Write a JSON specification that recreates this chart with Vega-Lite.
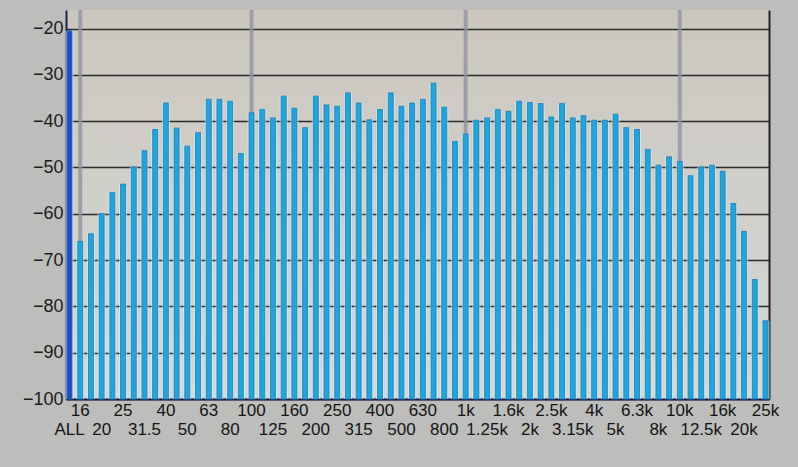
{
  "$schema": "https://vega.github.io/schema/vega-lite/v6.json",
  "description": "1/6-octave spectrum analyser display, level in dB per band.",
  "width": 703,
  "height": 389,
  "autosize": {"type": "none"},
  "padding": {"left": 66, "top": 10, "right": 29, "bottom": 68},
  "background": "#bdbdbb",
  "data": {
    "values": [
      {"band": "ALL", "level": -20.5},
      {"band": "16", "level": -66.0},
      {"band": "18", "level": -64.3},
      {"band": "20", "level": -60.0},
      {"band": "22.4", "level": -55.4},
      {"band": "25", "level": -53.6},
      {"band": "28", "level": -49.9},
      {"band": "31.5", "level": -46.4},
      {"band": "35.5", "level": -41.8},
      {"band": "40", "level": -36.1},
      {"band": "45", "level": -41.5},
      {"band": "50", "level": -45.4},
      {"band": "56", "level": -42.5},
      {"band": "63", "level": -35.3},
      {"band": "71", "level": -35.3},
      {"band": "80", "level": -35.7},
      {"band": "90", "level": -47.0},
      {"band": "100", "level": -38.2},
      {"band": "112", "level": -37.5},
      {"band": "125", "level": -39.3},
      {"band": "140", "level": -34.6},
      {"band": "160", "level": -37.2},
      {"band": "180", "level": -41.4},
      {"band": "200", "level": -34.6},
      {"band": "224", "level": -36.5},
      {"band": "250", "level": -36.8},
      {"band": "280", "level": -33.9},
      {"band": "315", "level": -36.1},
      {"band": "355", "level": -39.7},
      {"band": "400", "level": -37.5},
      {"band": "450", "level": -33.9},
      {"band": "500", "level": -36.8},
      {"band": "560", "level": -36.1},
      {"band": "630", "level": -35.3},
      {"band": "710", "level": -31.8},
      {"band": "800", "level": -37.0},
      {"band": "900", "level": -44.4},
      {"band": "1k", "level": -42.8},
      {"band": "1.12k", "level": -39.8},
      {"band": "1.25k", "level": -39.3},
      {"band": "1.4k", "level": -37.5},
      {"band": "1.6k", "level": -37.9},
      {"band": "1.8k", "level": -35.7},
      {"band": "2k", "level": -36.0},
      {"band": "2.24k", "level": -36.2},
      {"band": "2.5k", "level": -39.1},
      {"band": "2.8k", "level": -36.2},
      {"band": "3.15k", "level": -39.3},
      {"band": "3.55k", "level": -38.8},
      {"band": "4k", "level": -39.8},
      {"band": "4.5k", "level": -39.8},
      {"band": "5k", "level": -38.5},
      {"band": "5.6k", "level": -41.4},
      {"band": "6.3k", "level": -41.8},
      {"band": "7.1k", "level": -46.1},
      {"band": "8k", "level": -49.5},
      {"band": "9k", "level": -47.7},
      {"band": "10k", "level": -48.7},
      {"band": "11.2k", "level": -51.8},
      {"band": "12.5k", "level": -49.9},
      {"band": "14k", "level": -49.5},
      {"band": "16k", "level": -50.8},
      {"band": "18k", "level": -57.8},
      {"band": "20k", "level": -63.8},
      {"band": "22.4k", "level": -74.2},
      {"band": "25k", "level": -83.1}
    ]
  },
  "encoding": {
    "x": {
      "field": "band",
      "type": "nominal",
      "sort": null,
      "scale": {"paddingInner": 0.5, "paddingOuter": 0.08},
      "axis": {
        "title": null,
        "orient": "bottom",
        "labelAngle": 0,
        "ticks": false,
        "grid": false,
        "labelOverlap": false,
        "labelBound": false,
        "labelFlush": false,
        "labelExpr": "indexof(['ALL','16','20','25','31.5','40','50','63','80','100','125','160','200','250','315','400','500','630','800','1k','1.25k','1.6k','2k','2.5k','3.15k','4k','5k','6.3k','8k','10k','12.5k','16k','20k','25k'], datum.value) >= 0 ? datum.value : ''",
        "labelPadding": {
          "condition": {
            "test": "indexof(['ALL','20','31.5','50','80','125','200','315','500','800','1.25k','2k','3.15k','5k','8k','12.5k','20k'], datum.value) >= 0",
            "value": 22
          },
          "value": 3
        },
        "labelBaseline": "top",
        "labelFont": "Liberation Sans",
        "labelFontSize": 17,
        "labelColor": "#141414",
        "domainColor": "#1b2550",
        "domainWidth": 2
      }
    }
  },
  "layer": [
    {
      "mark": {"type": "rule", "color": "#9094a4", "strokeWidth": 4},
      "encoding": {
        "opacity": {
          "condition": {"test": "indexof(['16','100','1k','10k'], datum.band) >= 0", "value": 0.8},
          "value": 0
        }
      }
    },
    {
      "mark": {"type": "bar", "size": 8, "color": "#e6eff3", "opacity": 0.6},
      "encoding": {
        "y": {
          "field": "level",
          "type": "quantitative",
          "scale": {"domain": [-100, -16], "nice": false},
          "axis": {
            "orient": "right",
            "title": null,
            "labels": false,
            "ticks": false,
            "grid": false,
            "domainColor": "#222222",
            "domainWidth": 2
          }
        },
        "y2": {"datum": -100}
      }
    },
    {
      "mark": {"type": "bar", "size": 5, "stroke": "#167fb4", "strokeWidth": 0.8},
      "encoding": {
        "y": {
          "field": "level",
          "type": "quantitative",
          "scale": {"domain": [-100, -16], "nice": false},
          "axis": {
            "orient": "left",
            "title": null,
            "values": [-100, -90, -80, -70, -60, -50, -40, -30, -20],
            "ticks": false,
            "labelPadding": 3,
            "labelFont": "Liberation Sans",
            "labelFontSize": 18,
            "labelColor": "#1c1c1c",
            "grid": true,
            "gridColor": "#2b2b2b",
            "gridWidth": 1.5,
            "domainColor": "#1b2550",
            "domainWidth": 2
          }
        },
        "y2": {"datum": -100},
        "color": {
          "condition": {"test": "datum.band === 'ALL'", "value": "#2448cc"},
          "value": "#20a6df"
        }
      }
    }
  ],
  "resolve": {"axis": {"y": "independent"}},
  "config": {
    "view": {
      "stroke": null,
      "fill": {
        "gradient": "linear",
        "x1": 0, "y1": 0, "x2": 0, "y2": 1,
        "stops": [
          {"offset": 0, "color": "#cbc7be"},
          {"offset": 1, "color": "#d5d7d6"}
        ]
      }
    }
  }
}
